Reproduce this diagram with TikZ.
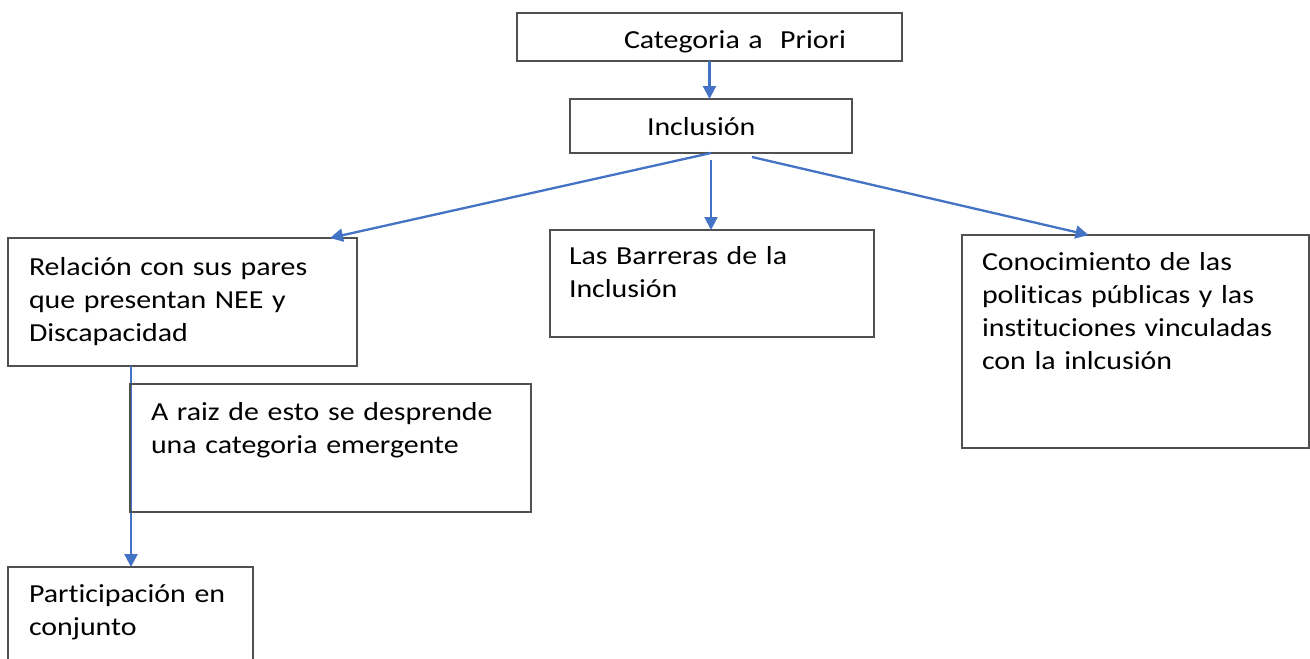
\documentclass[tikz,border=0pt]{standalone}
\usepackage{fontspec}
\setmainfont{Carlito}[FakeStretch=1.15,Ligatures=NoCommon]
\usetikzlibrary{arrows.meta}
\definecolor{arrowblue}{HTML}{4472C4}
\definecolor{boxgray}{HTML}{505050}
\begin{document}
\begin{tikzpicture}[x=1pt,y=-1pt,
  box/.style={draw=boxgray, line width=1.8pt, anchor=north west, outer sep=0pt,
    inner ysep=0pt, align=left, font=\fontsize{26}{33}\selectfont, text=black},
  conn/.style={draw=arrowblue, line width=2.3pt, -{Triangle[length=13pt,width=13pt]}}]
\useasboundingbox (0,0) rectangle (1310,659);
\clip (0,0) rectangle (1310,659);
\fill[white] (0,0) rectangle (1310,659);
\node[box, inner xsep=0pt, text width=385pt, text height=35pt, text depth=13pt] (cat) at (517,13) {\hspace*{107pt}Categoria a\ \ Priori};
\node[box, inner xsep=0pt, text width=282pt, text height=36pt, text depth=18pt] (inc) at (570,99) {\hspace*{77pt}Inclusión};
\node[box, inner xsep=21pt, text width=307pt, text height=37pt, text depth=91pt] (rel) at (8,238) {Relación con sus pares\\que presentan NEE y\\Discapacidad};
\node[box, inner xsep=19pt, text width=286pt, text height=34pt, text depth=73pt] (bar) at (550,230) {Las Barreras de la\\Inclusión};
\node[box, inner xsep=20pt, text width=307pt, text height=35pt, text depth=178pt] (con) at (962,235) {Conocimiento de las\\politicas públicas y las\\instituciones vinculadas\\con la inlcusión};
\node[box, inner xsep=21pt, text width=203pt, text height=35pt, text depth=100pt] (par) at (8,567) {Participación en\\conjunto};
\draw[conn] (cat.south) -- (cat.south |- inc.north);
\draw[conn] (inc.south) -- ([xshift=-27pt]rel.north east);
\draw[conn, shorten <=7pt] (inc.south) -- (inc.south |- bar.north);
\draw[conn] ([xshift=41pt,yshift=-4pt]inc.south) -- ([xshift=-47pt]con.north);
\draw[conn] ([xshift=123pt]rel.south west) -- ([xshift=123pt]par.north west);
\node[box, inner xsep=21pt, text width=359pt, text height=36pt, text depth=92pt] (rai) at (130,384) {A raiz de esto se desprende\\una categoria emergente};
\end{tikzpicture}
\end{document}
